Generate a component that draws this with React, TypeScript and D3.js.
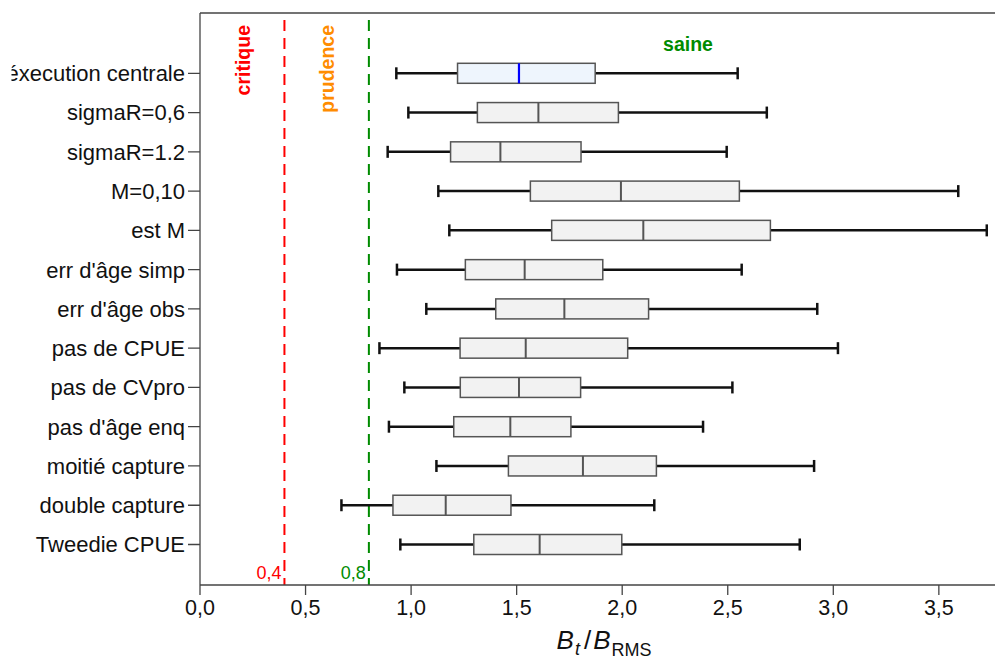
import React from "react";
import * as d3 from "d3";

const categories = [
  "éxecution centrale",
  "sigmaR=0,6",
  "sigmaR=1.2",
  "M=0,10",
  "est M",
  "err d'âge simp",
  "err d'âge obs",
  "pas de CPUE",
  "pas de CVpro",
  "pas d'âge enq",
  "moitié capture",
  "double capture",
  "Tweedie CPUE",
];
const whiskerLow = [0.93, 0.987, 0.889, 1.129, 1.181, 0.933, 1.072, 0.85, 0.968, 0.895, 1.12, 0.67, 0.949];
const q1 = [1.22, 1.314, 1.187, 1.565, 1.666, 1.257, 1.401, 1.232, 1.233, 1.202, 1.461, 0.914, 1.297];
const median = [1.511, 1.603, 1.423, 1.994, 2.1, 1.538, 1.726, 1.543, 1.511, 1.47, 1.814, 1.164, 1.609];
const q3 = [1.872, 1.982, 1.805, 2.555, 2.702, 1.908, 2.125, 2.026, 1.803, 1.757, 2.162, 1.473, 1.998];
const whiskerHigh = [2.547, 2.685, 2.495, 3.592, 3.727, 2.566, 2.924, 3.022, 2.522, 2.383, 2.909, 2.152, 2.841];

const xTicks = [0, 0.5, 1, 1.5, 2, 2.5, 3, 3.5];
const refLines = [
  { value: 0.4, label: "0,4", color: "#ff0000" },
  { value: 0.8, label: "0,8", color: "#008b00" },
];
const zoneLabels = [
  { text: "critique", color: "#ff0000" },
  { text: "prudence", color: "#ff8c00" },
  { text: "saine", color: "#008b00" },
];

const FONT = "'Liberation Sans', Arial, sans-serif";

export default function App() {
  const W = 995;
  const H = 659;
  const left = 200;
  const top = 13;
  const bottom = 585;
  const right = 1010;

  const x = d3.scaleLinear().domain([0, 3.5]).range([left, left + 3.5 * 211.1]);
  const y = d3.scalePoint<string>().domain(categories).range([73.3, 544.5]);
  const fmt = (v: number) => d3.format(".1f")(v).replace(".", ",");

  const boxH = 20;
  const capH = 12;

  return (
    <div style={{ position: "absolute", left: 0, top: 0 }}>
      <svg width={W} height={H} style={{ display: "block", fontFamily: FONT }}>
        <defs>
          <clipPath id="labelClip">
            <rect x={11.5} y={0} width={W} height={H} />
          </clipPath>
        </defs>
        <rect x={0} y={0} width={W} height={H} fill="#fff" />
        {/* reference lines */}
        {refLines.map((r) => (
          <g key={r.label}>
            <line
              x1={x(r.value)}
              x2={x(r.value)}
              y1={top}
              y2={bottom}
              stroke={r.color}
              strokeWidth={2}
              strokeDasharray="11,7"
              strokeDashoffset={-7}
            />
            <text
              x={x(r.value) - 3}
              y={579}
              textAnchor="end"
              fontSize={18}
              fill={r.color}
            >
              {r.label}
            </text>
          </g>
        ))}
        {/* zone labels */}
        <text
          transform={`translate(${249.5},25) rotate(-90)`}
          textAnchor="end"
          fontSize={19.5}
          fontWeight="bold"
          fill={zoneLabels[0].color}
        >
          {zoneLabels[0].text}
        </text>
        <text
          transform={`translate(${333.5},25) rotate(-90)`}
          textAnchor="end"
          fontSize={19.5}
          fontWeight="bold"
          fill={zoneLabels[1].color}
        >
          {zoneLabels[1].text}
        </text>
        <text x={688} y={51} textAnchor="middle" fontSize={19.5} fontWeight="bold" fill={zoneLabels[2].color}>
          {zoneLabels[2].text}
        </text>
        {/* boxes */}
        {categories.map((c, i) => {
          const cy = y(c)!;
          const isCentral = i === 0;
          return (
            <g key={c}>
              <line x1={x(whiskerLow[i])} x2={x(q1[i])} y1={cy} y2={cy} stroke="#111" strokeWidth={2.5} />
              <line x1={x(q3[i])} x2={x(whiskerHigh[i])} y1={cy} y2={cy} stroke="#111" strokeWidth={2.5} />
              <line x1={x(whiskerLow[i])} x2={x(whiskerLow[i])} y1={cy - capH / 2} y2={cy + capH / 2} stroke="#111" strokeWidth={2.5} />
              <line x1={x(whiskerHigh[i])} x2={x(whiskerHigh[i])} y1={cy - capH / 2} y2={cy + capH / 2} stroke="#111" strokeWidth={2.5} />
              <rect
                x={x(q1[i])}
                y={cy - boxH / 2}
                width={x(q3[i]) - x(q1[i])}
                height={boxH}
                fill={isCentral ? "#eef5fd" : "#f2f2f2"}
                stroke="#555"
                strokeWidth={1.5}
              />
              <line
                x1={x(median[i])}
                x2={x(median[i])}
                y1={cy - boxH / 2}
                y2={cy + boxH / 2}
                stroke={isCentral ? "#0000ff" : "#555"}
                strokeWidth={isCentral ? 2.2 : 2}
              />
            </g>
          );
        })}
        {/* axes */}
        <line x1={left} x2={left} y1={top} y2={bottom} stroke="#444" strokeWidth={1.3} />
        <line x1={left} x2={right} y1={top} y2={top} stroke="#444" strokeWidth={1.3} />
        <line x1={left} x2={right} y1={bottom} y2={bottom} stroke="#444" strokeWidth={1.3} />
        {xTicks.map((t) => (
          <g key={t}>
            <line x1={x(t)} x2={x(t)} y1={bottom} y2={bottom + 10} stroke="#444" strokeWidth={1.3} />
            <text x={x(t)} y={615} textAnchor="middle" fontSize={21.5} fill="#111">
              {fmt(t)}
            </text>
          </g>
        ))}
        <g clipPath="url(#labelClip)">
          {categories.map((c) => (
            <g key={c}>
              <line x1={188} x2={left} y1={y(c)!} y2={y(c)!} stroke="#444" strokeWidth={1.3} />
              <text x={185} y={y(c)!} dy="0.36em" textAnchor="end" fontSize={22} fill="#111">
                {c}
              </text>
            </g>
          ))}
        </g>
        {/* x axis title */}
        <text x={604} y={649} textAnchor="middle" fontSize={26} fill="#111">
          <tspan fontStyle="italic">B</tspan>
          <tspan fontStyle="italic" fontSize={18} dy={6} dx={1}>t</tspan>
          <tspan dy={-6} dx={4}>/</tspan>
          <tspan fontStyle="italic" dx={2}>B</tspan>
          <tspan fontSize={18} dy={7} dx={1}>RMS</tspan>
        </text>
      </svg>
    </div>
  );
}
